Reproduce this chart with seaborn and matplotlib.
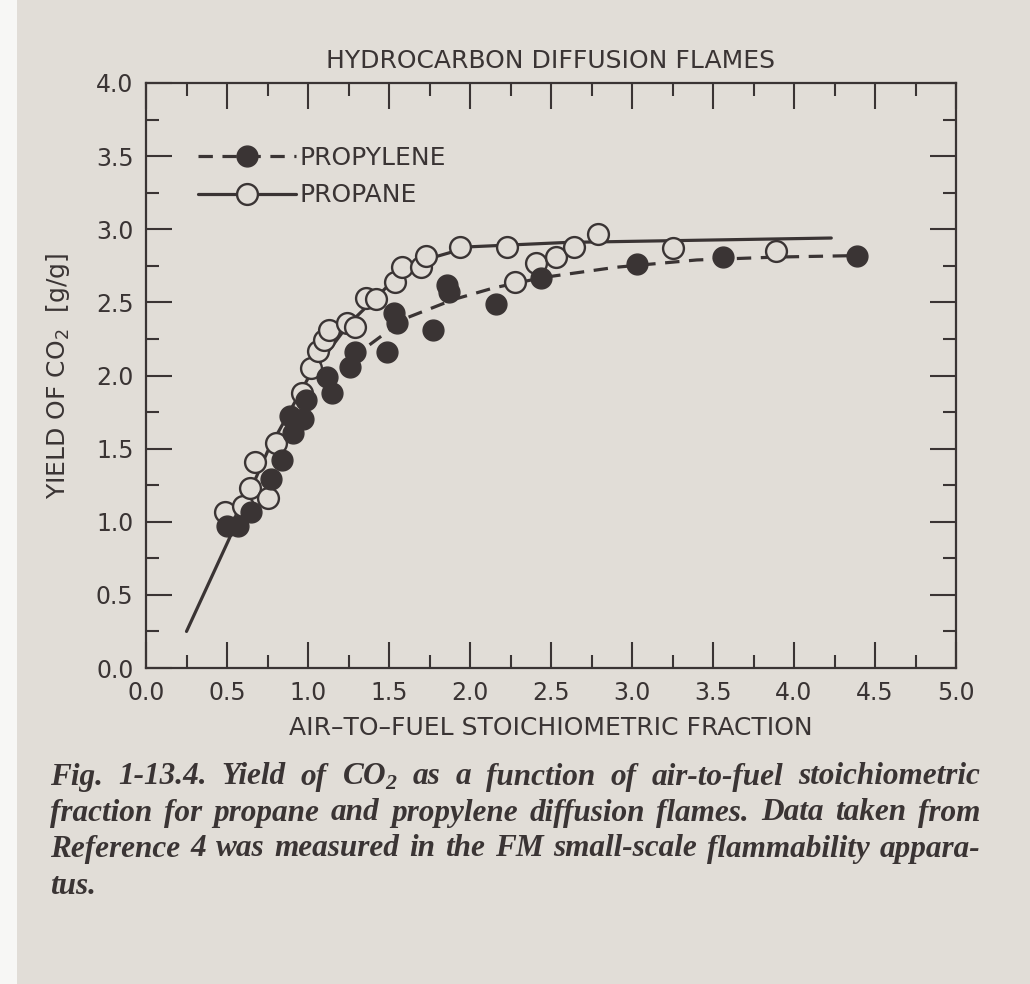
import numpy as np
import pandas as pd
import seaborn as sns
import matplotlib
matplotlib.use("Agg")
import matplotlib.pyplot as plt
from matplotlib.ticker import MultipleLocator, FormatStrFormatter
from matplotlib.lines import Line2D
from matplotlib.patches import Rectangle

# ---------------- data ----------------
propylene_x = [0.50, 0.57, 0.65, 0.77, 0.84, 0.91, 0.89, 0.97, 0.99, 1.15, 1.12, 1.26, 1.29,
               1.49, 1.53, 1.55, 1.77, 1.86, 1.87, 2.16, 2.44, 3.03, 3.56, 4.39]
propylene_y = [0.97, 0.97, 1.07, 1.29, 1.42, 1.61, 1.72, 1.70, 1.83, 1.88, 1.99, 2.06, 2.16,
               2.16, 2.43, 2.36, 2.31, 2.62, 2.57, 2.49, 2.67, 2.76, 2.81, 2.82]

propane_x = [0.49, 0.60, 0.64, 0.67, 0.75, 0.80, 0.96, 1.02, 1.06, 1.10, 1.13, 1.24, 1.29,
             1.36, 1.42, 1.54, 1.58, 1.70, 1.73, 1.94, 2.23, 2.28, 2.41, 2.53, 2.64, 2.79,
             3.25, 3.89]
propane_y = [1.07, 1.11, 1.23, 1.41, 1.16, 1.54, 1.88, 2.05, 2.17, 2.24, 2.31, 2.36, 2.33,
             2.53, 2.52, 2.64, 2.74, 2.74, 2.82, 2.88, 2.88, 2.64, 2.77, 2.81, 2.88, 2.97,
             2.87, 2.85]

# fitted curves
propane_curve_x = [0.25, 0.51, 0.75, 1.00, 1.25, 1.50, 1.75, 2.00, 2.60, 4.23]
propane_curve_y = [0.25, 0.875, 1.48, 1.98, 2.35, 2.62, 2.80, 2.88, 2.91, 2.94]

propylene_curve_x = [1.38, 1.60, 1.90, 2.15, 2.45, 2.90, 3.40, 3.90, 4.39]
propylene_curve_y = [2.21, 2.39, 2.52, 2.60, 2.67, 2.74, 2.79, 2.81, 2.82]

series_labels = ["PROPYLENE", "PROPANE"]
title = "HYDROCARBON DIFFUSION FLAMES"
xlabel = "AIR\u2013TO\u2013FUEL STOICHIOMETRIC FRACTION"
ylabel = "YIELD OF CO$_{\\mathregular{2}}$  [g/g]"
caption_lines = [
    "Fig. 1-13.4.  Yield of CO$_{\\mathregular{2}}$ as a function of air-to-fuel stoichiometric",
    "fraction for propane and propylene diffusion flames. Data taken from",
    "Reference 4 was measured in the FM small-scale flammability appara-",
    "tus.",
]

# ---------------- style ----------------
paper = "#e1ddd7"
ink = "#3a3434"
sns.set_theme(style="ticks")
plt.rcParams["font.family"] = ["DejaVu Sans"]
plt.rcParams["text.color"] = ink
plt.rcParams["axes.labelcolor"] = ink
plt.rcParams["xtick.color"] = ink
plt.rcParams["ytick.color"] = ink

W, H = 1030, 984
fig = plt.figure(figsize=(W / 100, H / 100), dpi=100, facecolor=paper)
L, R, T, B = 146, 956, 83, 668
ax = fig.add_axes([L / W, 1 - B / H, (R - L) / W, (B - T) / H])
ax.set_facecolor(paper)

# white photo border on left
fig.patches.append(Rectangle((0, 0), 17 / W, 1, transform=fig.transFigure,
                             facecolor="#f7f7f5", edgecolor="none", zorder=-1))

lw = 2.3
msz = 225

df_pl = pd.DataFrame({"x": propylene_x, "y": propylene_y})
df_pa = pd.DataFrame({"x": propane_x, "y": propane_y})
df_plc = pd.DataFrame({"x": propylene_curve_x, "y": propylene_curve_y})
df_pac = pd.DataFrame({"x": propane_curve_x, "y": propane_curve_y})

dash = (0, (4.5, 3.0))
sns.lineplot(data=df_pac, x="x", y="y", ax=ax, color=ink, lw=lw, sort=False,
             estimator=None, zorder=2)
sns.lineplot(data=df_plc, x="x", y="y", ax=ax, color=ink, lw=lw, sort=False,
             estimator=None, zorder=2, linestyle=dash)
sns.scatterplot(data=df_pa, x="x", y="y", ax=ax, s=msz, marker="o",
                facecolor=paper, edgecolor=ink, linewidth=1.7, zorder=3)
sns.scatterplot(data=df_pl, x="x", y="y", ax=ax, s=msz, marker="o",
                color=ink, edgecolor=ink, linewidth=1.0, zorder=4)

ax.set_xlim(0, 5)
ax.set_ylim(0, 4)
ax.xaxis.set_major_locator(MultipleLocator(0.5))
ax.xaxis.set_minor_locator(MultipleLocator(0.25))
ax.yaxis.set_major_locator(MultipleLocator(0.5))
ax.yaxis.set_minor_locator(MultipleLocator(0.25))
ax.xaxis.set_major_formatter(FormatStrFormatter("%.1f"))
ax.yaxis.set_major_formatter(FormatStrFormatter("%.1f"))
ax.tick_params(which="both", direction="in", top=True, right=True, width=1.5,
               color=ink, labelsize=17)
ax.tick_params(which="major", length=18.5)
ax.tick_params(which="minor", length=9.5)
ax.tick_params(axis="x", which="major", pad=9)
ax.tick_params(axis="y", which="major", pad=9)
for sp in ax.spines.values():
    sp.set_linewidth(1.6)
    sp.set_color(ink)

ax.set_xlabel(xlabel, fontsize=18, labelpad=8)
ax.set_ylabel(ylabel, fontsize=18, labelpad=17)
ax.set_title(title, fontsize=18, pad=11)

handles = [
    Line2D([], [], color=ink, lw=lw, linestyle=dash, marker="o",
           markersize=15, markerfacecolor=ink, markeredgecolor=ink),
    Line2D([], [], color=ink, lw=lw, marker="o", markersize=15,
           markerfacecolor=paper, markeredgecolor=ink, markeredgewidth=1.7),
]
leg = ax.legend(handles, series_labels, loc="upper left", bbox_to_anchor=(0.052, 0.91),
                frameon=False, handlelength=3.9, handletextpad=0.15, labelspacing=0.55,
                fontsize=18, borderaxespad=0)

# caption, justified line by line
fig.canvas.draw()
renderer = fig.canvas.get_renderer()
cap_left, cap_right = 50, 980
cap_y = [777, 813, 849, 886]
cap_kw = dict(family="Liberation Serif", style="italic",
              weight="bold", fontsize=22.5, color=ink, va="center", ha="left")
for i, line in enumerate(caption_lines):
    words = line.split()
    justify = i < len(caption_lines) - 1
    texts = [fig.text(0, 0, w, **cap_kw) for w in words]
    widths = [t.get_window_extent(renderer).width for t in texts]
    if justify and len(words) > 1:
        gap = (cap_right - cap_left - sum(widths)) / (len(words) - 1)
    else:
        gap = 6
    xpos = cap_left
    for t, wdt in zip(texts, widths):
        t.set_position((xpos / W, 1 - cap_y[i] / H))
        xpos += wdt + gap

fig.savefig("out.png", dpi=100, facecolor=paper)
